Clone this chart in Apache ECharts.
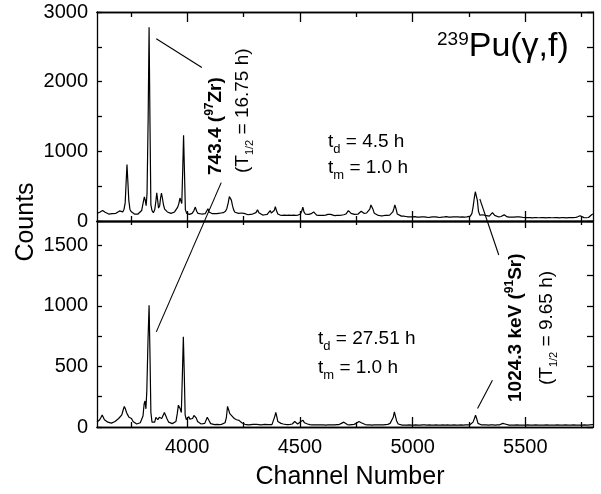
<!DOCTYPE html>
<html>
<head>
<meta charset="utf-8">
<script src="https://cdn.jsdelivr.net/npm/echarts@6/dist/echarts.min.js"></script>
<style>
html, body { margin: 0; padding: 0; background: #fff; }
#main { width: 601px; height: 494px; }
</style>
</head>
<body>
<div id="main"></div>
<script>
// Gamma spectra of 239Pu(γ,f) fission products: [channel, counts]
// td = 4.5 h cooling
const spectrumEarly = [
  [3600,110],[3606,120],[3612,125],[3619,110],[3625,150],[3630,160],[3636,125],[3644,105],
  [3652,100],[3660,95],[3668,105],[3676,100],[3684,110],[3692,120],[3700,145],[3706,125],
  [3714,130],[3720,170],[3725,260],[3729,540],[3733,810],[3737,560],[3741,300],[3746,170],
  [3751,135],[3758,110],[3766,100],[3774,95],[3782,100],[3790,110],[3798,150],[3804,250],
  [3810,345],[3814,300],[3818,220],[3822,400],[3827,1500],[3831,2780],[3835,1400],[3839,230],
  [3844,150],[3850,120],[3856,160],[3861,280],[3865,405],[3869,300],[3873,185],[3878,220],
  [3882,330],[3886,400],[3890,330],[3895,230],[3900,170],[3906,150],[3912,130],[3920,120],
  [3928,110],[3936,115],[3944,130],[3952,150],[3958,200],[3963,250],[3968,330],[3972,340],
  [3976,250],[3980,700],[3984,1230],[3988,700],[3992,160],[3998,110],[4004,100],[4010,95],
  [4016,120],[4022,110],[4030,150],[4036,200],[4042,140],[4048,110],[4056,100],[4064,100],
  [4072,110],[4080,105],[4086,130],[4092,175],[4097,130],[4104,110],[4112,105],[4120,110],
  [4130,105],[4140,110],[4150,115],[4160,120],[4170,140],[4176,180],[4182,260],[4187,350],
  [4191,370],[4196,300],[4201,220],[4206,160],[4212,125],[4220,115],[4228,110],[4236,105],
  [4242,115],[4247,130],[4252,110],[4260,100],[4270,90],[4280,95],[4290,100],[4298,95],
  [4305,120],[4312,160],[4318,120],[4325,95],[4335,85],[4345,90],[4355,95],[4362,110],
  [4368,150],[4373,115],[4380,110],[4386,150],[4391,205],[4396,150],[4402,100],[4412,85],
  [4422,80],[4432,85],[4442,82],[4452,85],[4462,80],[4472,85],[4482,82],[4492,85],
  [4502,100],[4508,140],[4513,200],[4518,130],[4524,100],[4532,100],[4540,95],[4550,105],
  [4556,120],[4561,130],[4566,105],[4574,85],[4584,80],[4594,82],[4604,80],[4614,85],
  [4624,95],[4630,110],[4636,95],[4644,80],[4654,78],[4664,80],[4674,82],[4684,85],
  [4694,90],[4704,100],[4710,120],[4715,150],[4720,125],[4727,110],[4734,100],[4742,95],
  [4750,95],[4758,100],[4766,110],[4772,140],[4777,120],[4784,110],[4790,120],[4796,115],
  [4804,130],[4810,170],[4815,230],[4819,240],[4824,170],[4830,110],[4838,90],[4848,80],
  [4858,75],[4868,75],[4878,80],[4888,80],[4898,85],[4906,100],[4912,130],[4917,180],
  [4921,230],[4926,180],[4932,100],[4940,80],[4950,70],[4960,70],[4970,65],[4980,60],
  [4990,58],[5000,60],[5010,62],[5020,55],[5030,55],[5040,58],[5050,60],[5060,55],
  [5070,50],[5080,55],[5090,58],[5100,60],[5110,55],[5120,50],[5130,55],[5140,58],
  [5150,62],[5160,55],[5170,55],[5180,60],[5190,58],[5200,60],[5210,55],[5220,58],
  [5230,55],[5240,60],[5248,60],[5256,70],[5263,110],[5268,200],[5273,320],[5278,420],
  [5283,445],[5287,300],[5292,140],[5298,85],[5305,70],[5312,90],[5317,110],[5322,80],
  [5330,60],[5340,70],[5348,90],[5354,120],[5359,125],[5364,80],[5372,60],[5382,58],
  [5392,65],[5400,80],[5406,88],[5412,70],[5420,58],[5430,55],[5440,55],[5450,55],
  [5460,60],[5468,75],[5474,60],[5482,52],[5492,50],[5502,48],[5512,50],[5522,48],
  [5532,46],[5542,50],[5552,48],[5562,47],[5572,50],[5582,48],[5592,46],[5602,50],
  [5612,48],[5622,47],[5632,50],[5642,48],[5652,46],[5662,50],[5672,48],[5682,46],
  [5692,48],[5702,50],[5712,48],[5722,50],[5732,60],[5738,85],[5743,75],[5750,50],
  [5760,48],[5770,47],[5780,50],[5788,60],[5794,90],[5800,100]
];

// td = 27.51 h cooling
const spectrumLate = [
  [3600,40],[3606,45],[3612,60],[3618,80],[3623,100],[3628,95],[3633,60],[3640,45],
  [3648,40],[3656,35],[3664,32],[3672,38],[3680,45],[3688,55],[3696,70],[3703,85],
  [3710,100],[3716,140],[3721,170],[3726,150],[3731,120],[3736,100],[3742,80],[3748,85],
  [3753,70],[3760,45],[3768,30],[3776,25],[3784,28],[3792,35],[3798,45],[3804,90],
  [3809,190],[3813,215],[3817,150],[3821,300],[3826,700],[3831,1005],[3835,600],[3839,120],
  [3844,40],[3850,28],[3856,40],[3861,80],[3865,85],[3870,60],[3876,80],[3882,90],
  [3887,70],[3893,95],[3899,120],[3904,110],[3910,70],[3918,40],[3926,30],[3934,28],
  [3942,30],[3950,45],[3956,110],[3961,180],[3965,185],[3969,150],[3974,120],[3979,450],
  [3983,745],[3987,450],[3991,100],[3996,60],[4002,70],[4007,85],[4012,65],[4018,60],
  [4024,70],[4030,95],[4035,105],[4040,75],[4046,45],[4054,30],[4062,25],[4070,25],
  [4078,30],[4084,45],[4089,80],[4093,85],[4098,50],[4104,28],[4112,22],[4122,20],
  [4132,22],[4142,20],[4152,22],[4160,25],[4168,35],[4174,80],[4179,170],[4184,140],
  [4189,110],[4194,120],[4199,90],[4204,85],[4209,70],[4214,80],[4219,60],[4224,50],
  [4230,55],[4236,40],[4242,35],[4248,30],[4256,22],[4264,20],[4272,18],[4282,20],
  [4292,22],[4300,25],[4308,22],[4318,20],[4328,18],[4336,20],[4344,22],[4352,25],
  [4360,20],[4368,18],[4376,20],[4384,35],[4389,90],[4393,120],[4397,90],[4402,45],
  [4408,35],[4416,30],[4426,25],[4436,22],[4446,20],[4456,22],[4466,25],[4472,35],
  [4477,45],[4482,30],[4490,25],[4498,30],[4504,45],[4509,60],[4514,55],[4520,35],
  [4526,30],[4534,25],[4544,20],[4554,18],[4564,17],[4574,18],[4584,17],[4594,18],
  [4604,17],[4614,16],[4624,18],[4634,17],[4644,18],[4654,17],[4664,20],[4674,20],
  [4684,30],[4690,45],[4695,40],[4700,25],[4710,20],[4720,18],[4730,20],[4740,22],
  [4750,30],[4756,28],[4762,45],[4767,50],[4772,35],[4780,25],[4790,20],[4800,18],
  [4810,17],[4820,16],[4830,18],[4840,17],[4850,18],[4860,17],[4870,18],[4880,20],
  [4890,22],[4900,30],[4908,40],[4914,80],[4919,125],[4924,110],[4929,50],[4936,25],
  [4944,18],[4954,16],[4964,15],[4974,16],[4984,17],[4994,16],[5004,15],[5014,17],
  [5024,16],[5034,15],[5044,17],[5054,18],[5064,16],[5074,17],[5084,15],[5094,16],
  [5104,17],[5114,16],[5124,15],[5134,17],[5144,16],[5154,18],[5164,16],[5174,15],
  [5184,17],[5194,16],[5204,15],[5214,17],[5224,16],[5234,18],[5244,17],[5254,18],
  [5262,25],[5268,40],[5274,70],[5279,97],[5284,70],[5290,30],[5296,20],[5306,17],
  [5316,18],[5326,17],[5336,16],[5346,18],[5356,17],[5366,16],[5376,17],[5386,18],
  [5394,20],[5400,30],[5405,41],[5410,25],[5418,16],[5428,15],[5438,16],[5450,15],
  [5462,17],[5474,16],[5486,15],[5498,16],[5510,17],[5522,15],[5534,16],[5546,17],
  [5558,15],[5570,16],[5582,15],[5594,17],[5606,16],[5618,15],[5630,16],[5642,17],
  [5654,15],[5666,16],[5678,17],[5690,15],[5702,16],[5714,17],[5726,16],[5738,15],
  [5750,16],[5762,17],[5774,16],[5786,18],[5800,20]
];

// Axis ranges and ticks
const channelRange = [3600, 5800];
const countsEarlyRange = [0, 3000];
const countsLateRange = [0, 1700];
const channelMajorTicks = [4000, 4500, 5000, 5500];
const channelMinorTicks = [3750, 4250, 4750, 5250, 5750];
const countsEarlyTicks = [0, 500, 1000, 1500, 2000, 2500, 3000];
const countsEarlyLabels = [0, 1000, 2000, 3000];
const countsLateTicks = [0, 250, 500, 750, 1000, 1250, 1500];
const countsLateLabels = [0, 500, 1000, 1500];

const FONT = "'Liberation Sans', Arial, Helvetica, sans-serif";
const BLACK = '#000';

const chart = echarts.init(document.getElementById('main'), null, { renderer: 'canvas' });

function frameAxis(gridIndex, position, range, ticks, tickLen, labels, labelMargin) {
  return {
    type: 'value',
    gridIndex: gridIndex,
    position: position,
    min: range[0],
    max: range[1],
    axisLine: { show: true, onZero: false, lineStyle: { color: BLACK, width: 1.3 } },
    axisTick: { show: true, inside: true, length: tickLen, customValues: ticks,
                lineStyle: { color: BLACK, width: 1.3 } },
    axisLabel: labels ? {
      show: true, customValues: labels, color: BLACK, fontSize: 20,
      fontFamily: FONT, margin: labelMargin,
      formatter: function (v) { return String(v); }
    } : { show: false },
    splitLine: { show: false },
    minorTick: { show: false }
  };
}

const xAxes = [
  frameAxis(0, 'bottom', channelRange, channelMajorTicks, 10),
  frameAxis(0, 'bottom', channelRange, channelMinorTicks, 5),
  frameAxis(0, 'top', channelRange, channelMajorTicks, 10),
  frameAxis(0, 'top', channelRange, channelMinorTicks, 5),
  frameAxis(1, 'bottom', channelRange, channelMajorTicks, 10, channelMajorTicks, 10),
  frameAxis(1, 'bottom', channelRange, channelMinorTicks, 5),
  frameAxis(1, 'top', channelRange, channelMajorTicks, 7),
  frameAxis(1, 'top', channelRange, channelMinorTicks, 4)
];
const yAxes = [
  frameAxis(0, 'left', countsEarlyRange, countsEarlyTicks, 5, countsEarlyLabels, 9),
  frameAxis(0, 'right', countsEarlyRange, countsEarlyTicks, 6),
  frameAxis(1, 'left', countsLateRange, countsLateTicks, 5, countsLateLabels, 9),
  frameAxis(1, 'right', countsLateRange, countsLateTicks, 6)
];

chart.setOption({
  animation: false,
  backgroundColor: '#fff',
  grid: [
    { left: 97, top: 12, width: 496, height: 209 },
    { left: 97, top: 221, width: 496, height: 206 }
  ],
  xAxis: xAxes,
  yAxis: yAxes,
  series: [
    {
      name: 'td = 4.5 h', type: 'line', xAxisIndex: 0, yAxisIndex: 0,
      data: spectrumEarly, showSymbol: false, symbol: 'none', clip: true,
      lineStyle: { color: BLACK, width: 1.2 }
    },
    {
      name: 'td = 27.51 h', type: 'line', xAxisIndex: 4, yAxisIndex: 2,
      data: spectrumLate, showSymbol: false, symbol: 'none', clip: true,
      lineStyle: { color: BLACK, width: 1.2 }
    }
  ]
});

// Leader lines from the peak labels to the peaks, in data coordinates
const EARLY = { xAxisIndex: 0, yAxisIndex: 0 };
const LATE = { xAxisIndex: 4, yAxisIndex: 2 };
const leaders = [
  { from: [EARLY, [3863, 2616]], to: [EARLY, [4065, 2204]] },
  { from: [EARLY, [4151, 551]], to: [LATE, [3863, 785]] },
  { from: [EARLY, [5298, 316]], to: [LATE, [5382, 1419]] },
  { from: [LATE, [5354, 386]], to: [LATE, [5288, 152]] }
];

function px(ref) { return chart.convertToPixel(ref[0], ref[1]); }

const lineEls = leaders.map(function (l) {
  const a = px(l.from), b = px(l.to);
  return {
    type: 'line', silent: true,
    shape: { x1: a[0], y1: a[1], x2: b[0], y2: b[1] },
    style: { stroke: BLACK, lineWidth: 1.1 }
  };
});

const subRich = { fontSize: 13, fontFamily: FONT, fill: BLACK, padding: [14, 0, 0, 0] };
const mainRich = { fontSize: 19, fontFamily: FONT, fill: BLACK };

function timeLabel(x, y, sub, value) {
  return {
    type: 'text', x: x, y: y, silent: true,
    style: {
      text: '{m|t}{s|' + sub + '}{m| = ' + value + '}',
      rich: { m: mainRich, s: subRich },
      align: 'left', verticalAlign: 'middle'
    }
  };
}

function halfLife(x, y, value) {
  return {
    type: 'text', x: x, y: y, rotation: Math.PI / 2, silent: true,
    style: {
      text: '{m|(T}{s|1/2}{m| = ' + value + ')}',
      rich: {
        m: mainRich,
        s: { fontSize: 11, fontFamily: FONT, fill: BLACK, padding: [14, 0, 0, 0] }
      },
      align: 'left', verticalAlign: 'middle'
    }
  };
}

function peakLabel(x, y, energy, mass, element) {
  return {
    type: 'text', x: x, y: y, rotation: Math.PI / 2, silent: true,
    style: {
      text: '{b|' + energy + ' (}{p|' + mass + '}{b|' + element + ')}',
      rich: {
        b: { fontSize: 19, fontWeight: 'bold', fontFamily: FONT, fill: BLACK },
        p: { fontSize: 12, fontWeight: 'bold', fontFamily: FONT, fill: BLACK, padding: [0, 0, 12, 0] }
      },
      align: 'left', verticalAlign: 'middle'
    }
  };
}

chart.setOption({
  graphic: lineEls.concat([
    {
      type: 'text', x: 26, y: 222, rotation: Math.PI / 2, silent: true,
      style: { text: 'Counts', fontSize: 25, fontFamily: FONT, fill: BLACK,
               align: 'center', verticalAlign: 'middle' }
    },
    {
      type: 'text', x: 350, y: 477, silent: true,
      style: { text: 'Channel Number', fontSize: 25, fontFamily: FONT, fill: BLACK,
               align: 'center', verticalAlign: 'middle' }
    },
    {
      type: 'text', x: 437, y: 47, silent: true,
      style: {
        text: '{s|239}{m|Pu(γ,f)}',
        rich: {
          s: { fontSize: 19, fontFamily: FONT, fill: BLACK, padding: [0, 0, 15, 0] },
          m: { fontSize: 34, fontFamily: FONT, fill: BLACK }
        },
        align: 'left', verticalAlign: 'middle'
      }
    },
    timeLabel(328, 142, 'd', '4.5 h'),
    timeLabel(328, 168, 'm', '1.0 h'),
    timeLabel(318, 339, 'd', '27.51 h'),
    timeLabel(318, 368, 'm', '1.0 h'),
    peakLabel(216, 175, '743.4', '97', 'Zr'),
    halfLife(243, 173, '16.75 h'),
    peakLabel(516, 402, '1024.3 keV', '91', 'Sr'),
    halfLife(547, 385, '9.65 h')
  ])
});
</script>
</body>
</html>
